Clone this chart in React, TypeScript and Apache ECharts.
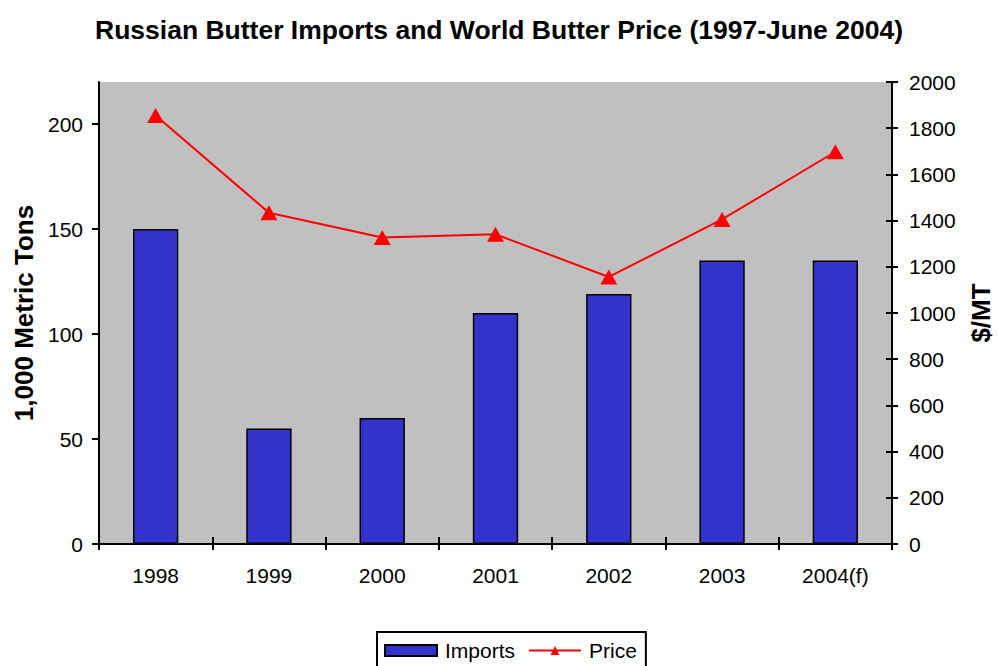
import React, { useEffect, useRef } from "react";
import * as echarts from "echarts";

const categories = ["1998", "1999", "2000", "2001", "2002", "2003", "2004(f)"];
const imports = [150, 55, 60, 110, 119, 135, 135];
const price = [1855, 1434, 1327, 1341, 1156, 1405, 1698];
const leftTicks = [0, 50, 100, 150, 200];

const FONT = "Liberation Sans, Arial, sans-serif";

export default function App() {
  const ref = useRef<HTMLDivElement>(null);
  useEffect(() => {
    document.body.style.margin = "0";
    const chart = echarts.init(ref.current!, null, { renderer: "svg" });
    chart.setOption({
      animation: false,
      textStyle: { fontFamily: FONT, color: "#000" },
      title: {
        text: "Russian Butter Imports and World Butter Price (1997-June 2004)",
        left: "center",
        top: 11,
        textStyle: { fontFamily: FONT, fontSize: 26.5, fontWeight: "bold", color: "#000" },
      },
      legend: {
        left: 377,
        top: 632,
        padding: [8, 9, 10, 7],
        borderColor: "#000",
        borderWidth: 2,
        itemWidth: 52,
        itemHeight: 11,
        itemGap: 13,
        textStyle: { fontFamily: FONT, fontSize: 21, color: "#000", padding: [0, 0, 0, 3] },
        data: [{ name: "Imports", icon: "rect" }, { name: "Price" }],
      },
      grid: {
        left: 99,
        right: 106,
        top: 82,
        bottom: 122,
        show: true,
        backgroundColor: "#C0C0C0",
        borderWidth: 0,
        containLabel: false,
        outerBoundsMode: "none",
      },
      xAxis: [
        {
          type: "category",
          data: categories,
          position: "bottom",
          axisLine: { lineStyle: { color: "#000", width: 2 } },
          axisTick: { show: true, length: 6, lineStyle: { color: "#000", width: 2 } },
          axisLabel: { fontFamily: FONT, fontSize: 21, color: "#000", margin: 21 },
          splitLine: { show: false },
        },
        {
          type: "category",
          data: categories,
          position: "bottom",
          axisLine: { show: false },
          axisTick: { show: true, inside: true, length: 7, lineStyle: { color: "#000", width: 2 } },
          axisLabel: { show: false },
          splitLine: { show: false },
        },
      ],
      yAxis: [
        {
          type: "value",
          position: "left",
          min: 0,
          max: 220,
          interval: 50,
          name: "1,000 Metric Tons",
          nameLocation: "middle",
          nameRotate: 90,
          nameGap: 62,
          nameTextStyle: { fontFamily: FONT, fontSize: 26, fontWeight: "bold", color: "#000" },
          axisLine: { show: true, lineStyle: { color: "#000", width: 2 } },
          axisTick: { show: true, length: 7, customValues: leftTicks, lineStyle: { color: "#000", width: 2 } },
          axisLabel: { fontFamily: FONT, fontSize: 21, color: "#000", margin: 16, customValues: leftTicks },
          splitLine: { show: false },
        },
        {
          type: "value",
          position: "right",
          min: 0,
          max: 2000,
          interval: 200,
          name: "$/MT",
          nameLocation: "middle",
          nameRotate: 90,
          nameGap: 76,
          nameTextStyle: { fontFamily: FONT, fontSize: 26, fontWeight: "bold", color: "#000" },
          axisLine: { show: true, lineStyle: { color: "#000", width: 2 } },
          axisTick: { show: true, length: 6, lineStyle: { color: "#000", width: 2 } },
          axisLabel: {
            fontFamily: FONT,
            fontSize: 21,
            color: "#000",
            margin: 17,
            formatter: (v: number) => String(v),
          },
          splitLine: { show: false },
        },
        {
          type: "value",
          position: "right",
          min: 0,
          max: 2000,
          interval: 200,
          axisLine: { show: false },
          axisTick: { show: true, inside: true, length: 6, lineStyle: { color: "#000", width: 2 } },
          axisLabel: { show: false },
          splitLine: { show: false },
        },
      ],
      series: [
        {
          name: "Imports",
          type: "bar",
          xAxisIndex: 0,
          yAxisIndex: 0,
          data: imports,
          barWidth: "40%",
          itemStyle: { color: "#3333CC", borderColor: "#000", borderWidth: 1.5 },
        },
        {
          name: "Price",
          type: "line",
          xAxisIndex: 0,
          yAxisIndex: 1,
          data: price,
          symbol: "triangle",
          symbolSize: [17, 15],
          itemStyle: { color: "#FF0000" },
          lineStyle: { color: "#FF0000", width: 2 },
        },
      ],
    });
    return () => chart.dispose();
  }, []);
  return <div ref={ref} style={{ width: 998, height: 666 }} />;
}
